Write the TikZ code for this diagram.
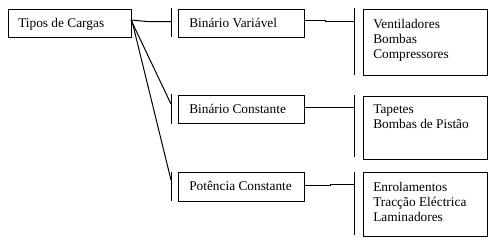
\documentclass[tikz,border=0pt]{standalone}
\usepackage{fontspec}
\setmainfont{Liberation Serif}
\begin{document}
\begin{tikzpicture}[x=0.75pt,y=-0.75pt,
  box/.style={draw,line width=0.75pt,minimum width=#1*0.75pt,inner sep=0pt,anchor=north west},
  txt/.style={font=\fontsize{10pt}{11.25pt}\selectfont,inner sep=0pt,anchor=base west,align=left},
  conn/.style={line width=0.75pt},
  bar/.style={line width=0.75pt}]
\useasboundingbox (0,0) rectangle (502,248);
% boxes
\node[box=123,minimum height=21pt] (tipos) at (8,9) {};
\node[box=126,minimum height=21pt] (bv) at (178,9) {};
\node[box=126,minimum height=21pt] (bc) at (178,95) {};
\node[box=126,minimum height=21.75pt] (pc) at (178,172) {};
\node[box=124,minimum height=49.5pt] (r1) at (363,9) {};
\node[box=124,minimum height=47.25pt] (r2) at (363,96) {};
\node[box=124,minimum height=48pt] (r3) at (363,172) {};
% texts
\node[txt] (tiposT) at (18,27.5) {Tipos de Cargas};
\node[txt] (bvT) at (189,27.5) {Binário Variável};
\node[txt] (bcT) at (189,113) {Binário Constante};
\node[txt] (pcT) at (189,190) {Potência Constante};
\node[txt] (r1T) at (373,58) {Ventiladores\\Bombas\\Compressores};
\node[txt] (r2T) at (373,128) {Tapetes\\Bombas de Pistão};
\node[txt] (r3T) at (373,221) {Enrolamentos\\Tracção Eléctrica\\Laminadores};
% bars
\coordinate (b1t) at (171,8); \coordinate (b1b) at (171,37);
\coordinate (b2t) at (171,94); \coordinate (b2b) at (171,124);
\coordinate (b3t) at (171,172); \coordinate (b3b) at (171,201);
\coordinate (c1t) at (354,8); \coordinate (c1b) at (354,75);
\coordinate (c2t) at (354,95); \coordinate (c2b) at (354,157);
\coordinate (c3t) at (354,172); \coordinate (c3b) at (354,235);
\foreach \a/\b in {b1t/b1b,b2t/b2b,b3t/b3b,c1t/c1b,c2t/c2b,c3t/c3b}
  \draw[bar] (\a) -- (\b);
% connectors
\coordinate (s1) at (131,20);
\coordinate (s3) at (132,21);
\coordinate (k1) at (147,21.5);
\coordinate (e1) at (171,21.5);
\coordinate (e2) at (171,104);
\coordinate (e3) at (171,180);
\draw[conn] (s1) -- (k1) -- (e1);
\draw[conn] (s1) -- (e2);
\draw[conn] (s3) -- (e3);
\coordinate (f1a) at (304,20); \coordinate (f1k) at (325,20); \coordinate (f1b) at (325,21); \coordinate (f1e) at (354,21);
\draw[conn] (f1a) -- (f1k) -- (f1b) -- (f1e);
\coordinate (f2a) at (304,107); \coordinate (f2e) at (354,107);
\draw[conn] (f2a) -- (f2e);
\coordinate (f3a) at (304,185); \coordinate (f3k) at (330,185); \coordinate (f3b) at (330,184); \coordinate (f3e) at (354,184);
\draw[conn] (f3a) -- (f3k) -- (f3b) -- (f3e);
\end{tikzpicture}
\end{document}
